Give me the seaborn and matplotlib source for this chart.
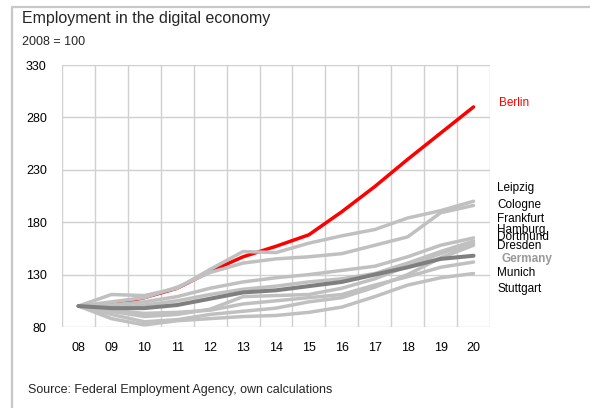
import numpy as np
import pandas as pd
import matplotlib
matplotlib.use("Agg")
import matplotlib.pyplot as plt
import seaborn as sns

# Index values, 2008 = 100
years = ["08", "09", "10", "11", "12", "13", "14", "15", "16", "17", "18", "19", "20"]

berlin    = [100, 101, 108, 117, 133, 147, 157, 168, 190, 214, 240, 265, 290]
leipzig   = [100, 111, 110, 117, 135, 152, 151, 160, 167, 173, 184, 191, 200]
cologne   = [100, 104, 108, 118, 132, 141, 145, 147, 150, 158, 166, 189, 196]
frankfurt = [100, 101, 104, 109, 117, 123, 127, 130, 134, 138, 147, 158, 165]
hamburg   = [100, 98, 101, 105, 111, 116, 119, 123, 126, 131, 141, 152, 162]
dortmund  = [100, 95, 90, 92, 97, 109, 110, 111, 117, 126, 138, 150, 160]
dresden   = [100, 92, 85, 87, 92, 95, 98, 104, 108, 118, 130, 146, 158]
germany   = [100, 98, 98, 101, 107, 113, 115, 119, 123, 130, 137, 145, 148]
munich    = [100, 96, 93, 94, 96, 102, 105, 108, 111, 120, 128, 137, 142]
stuttgart = [100, 88, 82, 86, 88, 90, 91, 94, 99, 109, 120, 127, 131]

cities = {
    "Leipzig": leipzig, "Cologne": cologne, "Frankfurt": frankfurt,
    "Hamburg": hamburg, "Dortmund": dortmund, "Dresden": dresden,
    "Munich": munich, "Stuttgart": stuttgart,
}

# label anchor heights (data units) for the right-hand name column
label_pos = {
    "Berlin": 293.5, "Leipzig": 212.5, "Cologne": 196.5, "Frankfurt": 183.0,
    "Hamburg": 172.8, "Dortmund": 166.0, "Dresden": 157.5, "Germany": 145.0,
    "Munich": 131.8, "Stuttgart": 116.5,
}

x = np.arange(len(years))

def frame(name, vals):
    return pd.DataFrame({"x": x, "value": vals, "series": name})

sns.set_theme(style="white")
plt.rcParams["font.family"] = ["Liberation Sans", "DejaVu Sans"]

fig = plt.figure(figsize=(5.9, 4.08), dpi=100)
ax = fig.add_axes([62 / 590, 81 / 408, 428 / 590, 262 / 408])

grid_c = "#d0d0d0"
gray = "#c0c0c0"

# Berlin first so the grey lines overlap it where they cross
sns.lineplot(data=frame("Berlin", berlin), x="x", y="value", color="#ff0000",
             lw=2.5, ax=ax, legend=False, zorder=3)
for name, vals in cities.items():
    sns.lineplot(data=frame(name, vals), x="x", y="value", color=gray,
                 lw=2.5, ax=ax, legend=False, zorder=4)
sns.lineplot(data=frame("Germany", germany), x="x", y="value", color="#7f7f7f",
             lw=2.9, ax=ax, legend=False, zorder=5)

ax.set_xlim(-0.5, len(years) - 0.5)
ax.set_ylim(80, 330)
ax.set_yticks(np.arange(80, 331, 50))
ax.set_xticks(x)
ax.set_xticklabels(years)
ax.set_xlabel("")
ax.set_ylabel("")

# horizontal gridlines and vertical lines between categories
for yv in np.arange(80, 331, 50):
    ax.axhline(yv, color=grid_c, lw=1.0, zorder=1)
for xv in np.arange(-0.5, len(years), 1.0):
    ax.axvline(xv, color=grid_c, lw=1.0, zorder=1)
for s in ax.spines.values():
    s.set_visible(False)

ax.tick_params(axis="both", length=0, labelsize=9, colors="#000000")
ax.tick_params(axis="y", pad=11)
ax.tick_params(axis="x", pad=11)

# series names at the right
for name, yv in label_pos.items():
    col = "#000000"
    xo = 12.72
    if name == "Berlin":
        col = "#ff0000"
        xo = 12.78
    elif name == "Germany":
        col = "#999999"
        xo = 12.85
    ax.text(xo, yv, name, color=col, fontsize=8.5, va="center", ha="left",
            clip_on=False, fontweight="bold" if name == "Germany" else "normal")

fig.text(22 / 590, 1 - 23 / 408, "Employment in the digital economy",
         fontsize=11.5, va="baseline", ha="left")
fig.text(22 / 590, 1 - 45 / 408, "2008 = 100", fontsize=9,
         va="baseline", ha="left")
fig.text(28 / 590, 1 - 393 / 408, "Source: Federal Employment Agency, own calculations",
         fontsize=9, va="baseline", ha="left")

# outer frame: left and top edges
fig.add_artist(plt.Line2D([12 / 590, 12 / 590], [0, 1 - 7 / 408],
                          transform=fig.transFigure, color="#c8c8c8", lw=1.6))
fig.add_artist(plt.Line2D([12 / 590, 1], [1 - 7 / 408, 1 - 7 / 408],
                          transform=fig.transFigure, color="#c8c8c8", lw=1.6))

fig.savefig("out.png", dpi=100)
